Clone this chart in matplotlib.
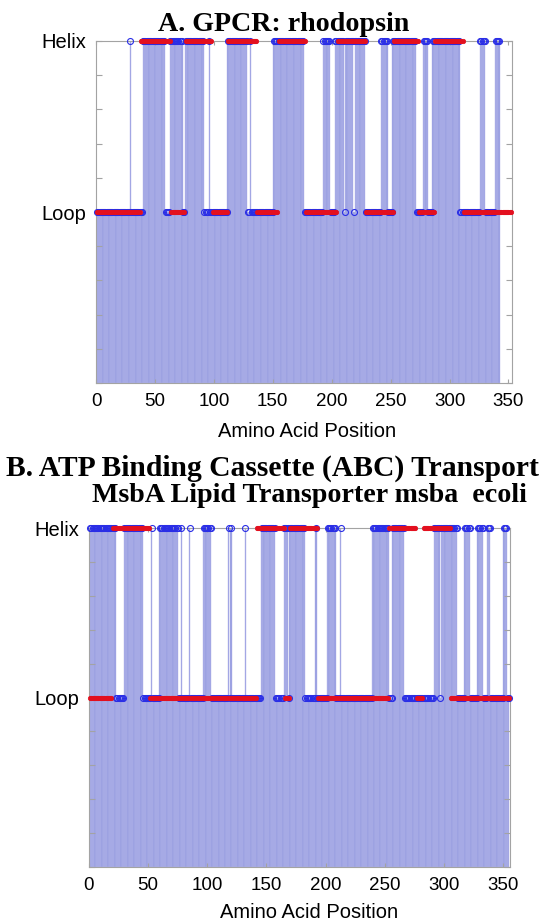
import numpy as np
import matplotlib
matplotlib.use("Agg")
import matplotlib.pyplot as plt

# ---------------- data ----------------
x_ticks = [0, 50, 100, 150, 200, 250, 300, 350]
x_label = "Amino Acid Position"
y_tick_values = [-1.0, -0.8, -0.6, -0.4, -0.2, 0.0, 0.2, 0.4, 0.6, 0.8, 1.0]
state_names = {0.0: "Loop", 1.0: "Helix"}

# Panel A: rhodopsin
a_title = "A. GPCR: rhodopsin"
a_blue_len = 342          # residues in the bar / open-circle series
a_red_len = 352           # residues in the red-dot series
a_blue_helix = [(29, 29), (40, 58), (63, 73), (76, 91), (96, 96), (112, 128),
                (131, 131), (151, 176), (193, 198), (203, 210), (212, 218),
                (220, 228), (242, 247), (252, 271), (278, 281), (286, 308),
                (326, 330), (339, 342)]
a_red_helix = [(38, 63), (76, 98), (112, 136), (155, 177), (205, 228),
               (253, 273), (288, 311)]

# Panel B: MsbA
b_title1 = "B. ATP Binding Cassette (ABC) Transport"
b_title2 = "MsbA Lipid Transporter msba  ecoli"
b_blue_len = 355
b_red_len = 355
b_blue_helix = [(1, 22), (30, 45), (53, 53), (60, 75), (78, 78), (85, 85),
                (97, 103), (118, 118), (120, 120), (132, 132), (146, 157),
                (165, 168), (170, 182), (192, 192), (202, 208), (213, 213),
                (240, 253), (257, 266), (292, 296), (298, 311), (318, 322),
                (329, 333), (337, 339), (351, 353)]
b_red_helix = [(20, 51), (142, 165), (170, 193), (254, 276), (283, 305)]

# ---------------- style ----------------
BAR = "#989de0"
BAR_EDGE = "#b3b6ea"
BLUE = "#2a2ee6"
RED = "#e3101f"
SPINE = "#a3a3a3"
SANS = ["Liberation Sans", "DejaVu Sans"]
SERIF = ["Liberation Serif", "DejaVu Serif"]

W, H = 545, 923
fig = plt.figure(figsize=(W / 100, H / 100), dpi=100)


def states(n, segs):
    s = np.zeros(n)
    for a, b in segs:
        s[a - 1:b] = 1.0
    return s


def axes_px(l, t, r, b):
    return fig.add_axes([l / W, 1 - b / H, (r - l) / W, (b - t) / H])


def panel(ax, blue_len, blue_helix, red_len, red_helix, xmax):
    rb = np.arange(1, blue_len + 1)
    rr = np.arange(1, red_len + 1)
    sb = states(blue_len, blue_helix)
    sr = states(red_len, red_helix)
    ax.bar(rb, sb + 1.0, bottom=-1.0, width=1.0, color=BAR,
           edgecolor=BAR_EDGE, linewidth=0.3, zorder=1)
    ax.plot(rb, sb, "o", ms=4.3, mfc="none", mec=BLUE, mew=0.8,
            clip_on=False, zorder=3)
    ax.plot(rr, sr, "o", ms=3.2, mfc=RED, mec=RED, mew=0.5,
            clip_on=False, zorder=4)
    ax.set_xlim(0, xmax)
    ax.set_ylim(-1, 1)
    ax.set_xticks(x_ticks)
    ax.set_xticklabels([str(t) for t in x_ticks], fontfamily=SANS, fontsize=13.5)
    ax.set_yticks(y_tick_values)
    ax.set_yticklabels([state_names.get(round(v, 1), "") for v in y_tick_values],
                       fontfamily=SANS, fontsize=14.5)
    ax.tick_params(axis="x", direction="in", length=3, color=SPINE, pad=7,
                   top=True, bottom=True)
    ax.tick_params(axis="y", direction="in", length=4, color=SPINE, pad=7,
                   left=True, right=True)
    for sp in ax.spines.values():
        sp.set_color(SPINE)
        sp.set_linewidth(0.8)
        sp.set_zorder(2)


axA = axes_px(96, 41, 512, 383)
panel(axA, a_blue_len, a_blue_helix, a_red_len, a_red_helix, 353)

axB = axes_px(89, 528, 510, 867)
panel(axB, b_blue_len, b_blue_helix, b_red_len, b_red_helix, 356)

# titles and axis labels
fig.text(284 / W, 1 - 31 / H, a_title, ha="center", va="baseline",
         fontfamily=SERIF, fontweight="bold", fontsize=20.2)
fig.text(307 / W, 1 - 432 / H, x_label, ha="center", va="center",
         fontfamily=SANS, fontsize=14.5)
fig.text(272 / W, 1 - 476 / H, b_title1, ha="center", va="baseline",
         fontfamily=SERIF, fontweight="bold", fontsize=21.3)
fig.text(309 / W, 1 - 502 / H, b_title2, ha="center", va="baseline",
         fontfamily=SERIF, fontweight="bold", fontsize=20.2)
fig.text(309 / W, 1 - 912 / H, x_label, ha="center", va="center",
         fontfamily=SANS, fontsize=14.5)

fig.savefig("out.png", dpi=100)
